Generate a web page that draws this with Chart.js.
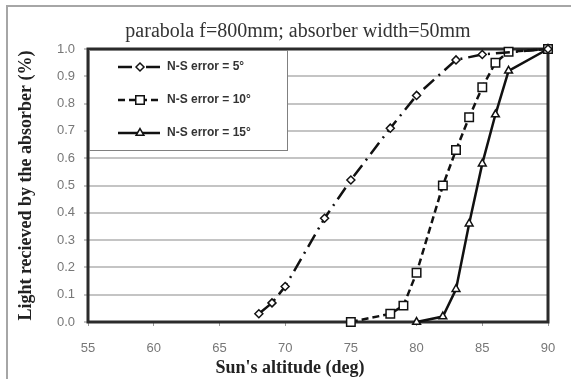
<!DOCTYPE html>
<html>
<head>
<meta charset="utf-8">
<script src="https://cdn.jsdelivr.net/npm/chart.js@4.4.1/dist/chart.umd.min.js"></script>
<style>
  html, body { margin: 0; padding: 0; background: #fff; }
  #wrap { width: 571px; height: 379px; }
</style>
</head>
<body>
<div id="wrap"><canvas id="chart" width="571" height="379"></canvas></div>
<script>
// values
const seriesLabels = ['N-S error = 5°', 'N-S error = 10°', 'N-S error = 15°'];

const alt5 = [68, 69, 70, 73, 75, 78, 80, 83, 85, 90];
const light5 = [0.03, 0.07, 0.13, 0.38, 0.52, 0.71, 0.83, 0.96, 0.98, 1.0];

const alt10 = [75, 78, 79, 80, 82, 83, 84, 85, 86, 87, 90];
const light10 = [0.0, 0.03, 0.06, 0.18, 0.5, 0.63, 0.75, 0.86, 0.95, 0.99, 1.0];

const alt15 = [80, 82, 83, 84, 85, 86, 87, 90];
const light15 = [0.0, 0.02, 0.12, 0.36, 0.58, 0.76, 0.92, 1.0];

const xTicks = [55, 60, 65, 70, 75, 80, 85, 90];
const yTicks = [0, 0.1, 0.2, 0.3, 0.4, 0.5, 0.6, 0.7, 0.8, 0.9, 1.0];

const chartTitle = 'parabola f=800mm; absorber width=50mm';
const xTitle = "Sun's altitude (deg)";
const yTitle = 'Light recieved by the absorber (%)';

const toPoints = (xs, ys) => xs.map((x, i) => ({ x: x, y: ys[i] }));

const SERIF = '"Liberation Serif", "Times New Roman", serif';
const SANS = '"Liberation Sans", Arial, sans-serif';

// frame, plot border, title, x title, legend box
const decor = {
  id: 'decor',
  beforeDraw(chart) {
    const ctx = chart.ctx;
    ctx.save();
    ctx.strokeStyle = '#a6a6a6';
    ctx.lineWidth = 2;
    ctx.beginPath();
    ctx.moveTo(7, 379);
    ctx.lineTo(7, 6);
    ctx.lineTo(571, 6);
    ctx.stroke();

    ctx.fillStyle = '#333';
    ctx.font = '20px ' + SERIF;
    ctx.textAlign = 'center';
    ctx.textBaseline = 'middle';
    ctx.fillText(chartTitle, 298, 32);

    ctx.font = 'bold 18px ' + SERIF;
    ctx.fillStyle = '#222';
    ctx.fillText(xTitle, 290, 368);
    ctx.restore();
  },
  beforeDatasetsDraw(chart) {
    const { ctx, chartArea: a } = chart;
    ctx.save();
    ctx.strokeStyle = '#2b2b2b';
    ctx.lineWidth = 3;
    ctx.strokeRect(a.left, a.top, a.right - a.left, a.bottom - a.top);

    // legend box inside the plot area
    const bx = a.left + 1, by = a.top + 1, bw = 198, bh = 100;
    ctx.fillStyle = '#fff';
    ctx.fillRect(bx, by, bw, bh);
    ctx.strokeStyle = '#808080';
    ctx.lineWidth = 1;
    ctx.strokeRect(bx + 0.5, by + 0.5, bw, bh);

    chart.data.datasets.forEach((ds, i) => {
      const y = a.top + 18 + i * 33;
      ctx.strokeStyle = ds.borderColor;
      ctx.lineWidth = ds.borderWidth;
      ctx.setLineDash(ds.borderDash || []);
      ctx.beginPath();
      ctx.moveTo(118, y);
      ctx.lineTo(160, y);
      ctx.stroke();
      ctx.setLineDash([]);
      ctx.fillStyle = ds.pointBackgroundColor;
      ctx.strokeStyle = ds.pointBorderColor;
      ctx.lineWidth = ds.pointBorderWidth;
      Chart.helpers.drawPoint(ctx, { pointStyle: ds.pointStyle, radius: ds.pointRadius, borderWidth: ds.pointBorderWidth }, 140, y);
      ctx.fillStyle = '#333';
      ctx.font = 'bold 12px ' + SANS;
      ctx.textAlign = 'left';
      ctx.textBaseline = 'middle';
      ctx.fillText(ds.label, 167, y);
    });
    ctx.restore();
  }
};

const common = {
  borderColor: '#111',
  pointBackgroundColor: '#fff',
  pointBorderColor: '#111',
  pointBorderWidth: 1.5,
  borderWidth: 2.5,
  fill: false,
  tension: 0,
  clip: 10
};

new Chart(document.getElementById('chart'), {
  type: 'scatter',
  data: {
    datasets: [
      Object.assign({}, common, {
        label: seriesLabels[0],
        data: toPoints(alt5, light5),
        showLine: true,
        borderDash: [14, 6, 2, 6],
        pointStyle: 'rectRot',
        pointRadius: 4
      }),
      Object.assign({}, common, {
        label: seriesLabels[1],
        data: toPoints(alt10, light10),
        showLine: true,
        borderDash: [7, 4],
        pointStyle: 'rect',
        pointRadius: 6
      }),
      Object.assign({}, common, {
        label: seriesLabels[2],
        data: toPoints(alt15, light15),
        showLine: true,
        borderDash: [],
        pointStyle: 'triangle',
        pointRadius: 4.5
      })
    ]
  },
  options: {
    responsive: false,
    animation: false,
    layout: { padding: { left: 10, right: 23, top: 49, bottom: 0 } },
    plugins: {
      legend: { display: false },
      title: { display: false },
      tooltip: { enabled: false }
    },
    scales: {
      x: {
        type: 'linear',
        min: 55,
        max: 90,
        afterFit: (s) => { s.height = 57; },
        afterBuildTicks: (s) => { s.ticks = xTicks.map(v => ({ value: v })); },
        grid: { drawOnChartArea: false, drawTicks: true, tickLength: 4, color: '#999' },
        border: { display: false },
        ticks: { padding: 15, color: '#777', font: { family: SANS, size: 13 } }
      },
      y: {
        min: 0,
        max: 1,
        afterFit: (s) => { s.width = 78; },
        afterBuildTicks: (s) => { s.ticks = yTicks.map(v => ({ value: v })); },
        grid: { color: '#c4c4c4', lineWidth: 2, tickLength: 4 },
        border: { display: false },
        ticks: { padding: 9, color: '#777', font: { family: SANS, size: 13 }, callback: (v) => v.toFixed(1) },
        title: { display: true, text: yTitle, color: '#222', padding: { top: 6, bottom: 0 }, font: { family: SERIF, size: 18, weight: 'bold' } }
      }
    }
  },
  plugins: [decor]
});
</script>
</body>
</html>
